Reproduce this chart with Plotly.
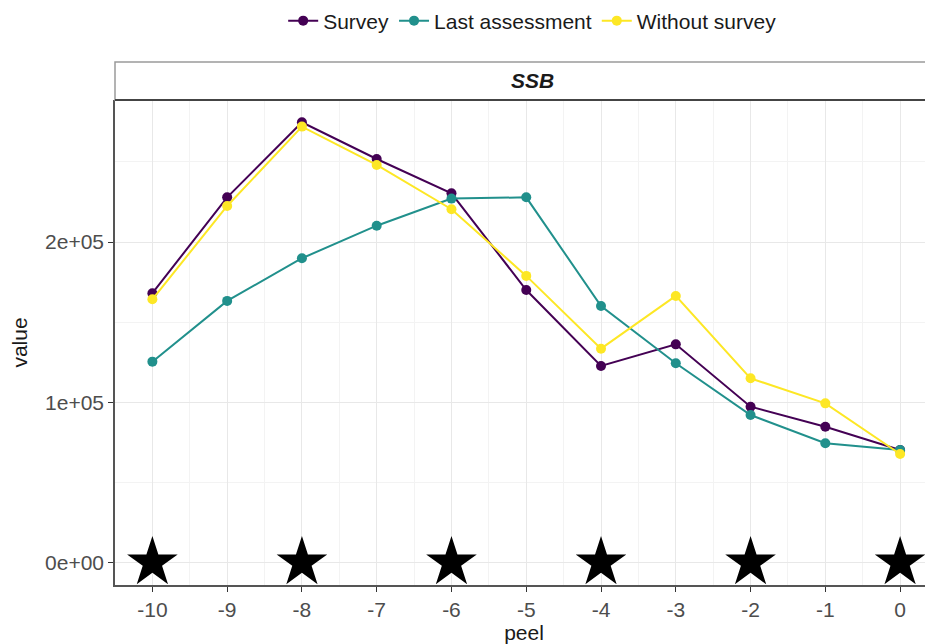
import plotly.graph_objects as go

peel = [-10, -9, -8, -7, -6, -5, -4, -3, -2, -1, 0]
survey = [168100, 227900, 274700, 251800, 230400, 170100, 122700, 136200, 97300, 84800, 70300]
last_assessment = [125400, 163300, 189900, 210200, 227100, 227900, 160100, 124400, 92100, 74500, 70300]
without_survey = [164300, 222500, 272000, 248100, 220500, 178900, 133500, 166400, 115000, 99400, 67800]
star_peel = [-10, -8, -6, -4, -2, 0]
star_value = [0, 0, 0, 0, 0, 0]
y_tickvals = [0, 100000, 200000]
y_ticktext = ["0e+00", "1e+05", "2e+05"]
x_ticks = [-10, -9, -8, -7, -6, -5, -4, -3, -2, -1, 0]
x_ticktext = ["-10", "-9", "-8", "-7", "-6", "-5", "-4", "-3", "-2", "-1", "0"]

FONT = "Liberation Sans, Arial, sans-serif"
series = [("Survey", survey, "#440154"),
          ("Last assessment", last_assessment, "#21908C"),
          ("Without survey", without_survey, "#FDE725")]

fig = go.Figure()
for name, vals, col in series:
    fig.add_trace(go.Scatter(x=peel, y=vals, name=name, mode="lines+markers",
                             line=dict(color=col, width=2),
                             marker=dict(color=col, size=10)))
fig.add_trace(go.Scatter(x=star_peel, y=star_value, mode="markers", showlegend=False,
                         marker=dict(symbol="star", size=38, color="black"),
                         cliponaxis=False, hoverinfo="skip"))

H = 485
fig.update_layout(
    width=925, height=636,
    margin=dict(l=107, r=0, t=92, b=59, autoexpand=False),
    paper_bgcolor="white", plot_bgcolor="white",
    font=dict(family=FONT, size=21, color="#1a1a1a"),
    legend=dict(orientation="h", x=0.51, xanchor="center", y=1 + 79 / H, yanchor="middle",
                font=dict(size=21, color="#1a1a1a"), tracegroupgap=0,
                bgcolor="rgba(0,0,0,0)"),
    xaxis=dict(range=[-10.5, 0.44], tickvals=x_ticks, ticktext=x_ticktext,
               ticks="outside", ticklen=5,
               tickcolor="#333333", tickfont=dict(size=21, color="#4d4d4d"),
               showgrid=True, gridcolor="#e8e8e8", gridwidth=1.4,
               minor=dict(dtick=0.5, showgrid=True, gridcolor="#f3f3f3", gridwidth=0.8),
               showline=True, linecolor="#555555", linewidth=1.5, mirror=False,
               zeroline=False,
               title=dict(text="peel", font=dict(size=21, color="#1a1a1a"), standoff=2)),
    yaxis=dict(range=[-13900, 288600], tickvals=y_tickvals, ticktext=y_ticktext,
               ticks="outside", ticklen=5, tickcolor="#333333",
               tickfont=dict(size=21, color="#4d4d4d"),
               showgrid=True, gridcolor="#e8e8e8", gridwidth=1.4,
               minor=dict(tickvals=[50000, 150000, 250000], showgrid=True,
                          gridcolor="#f3f3f3", gridwidth=0.8),
               showline=True, linecolor="#555555", linewidth=1.5, mirror=False,
               zeroline=False,
               title=dict(text="value", font=dict(size=21, color="#1a1a1a"), standoff=14)),
)

# facet strip
fig.add_shape(type="rect", xref="paper", yref="paper", x0=0, x1=1.01, y0=1, y1=1 + 38 / H,
              line=dict(color="#9a9a9a", width=1.5), fillcolor="white", layer="above")
fig.add_shape(type="line", xref="paper", yref="paper", x0=0, x1=1.01, y0=1, y1=1,
              line=dict(color="#444444", width=2), layer="above")
fig.add_annotation(text="<b><i>SSB</i></b>", xref="paper", yref="paper", x=0.51, y=1 + 19 / H,
                   showarrow=False, font=dict(size=21, color="#1a1a1a"), yanchor="middle")

fig.write_html("out.html")
